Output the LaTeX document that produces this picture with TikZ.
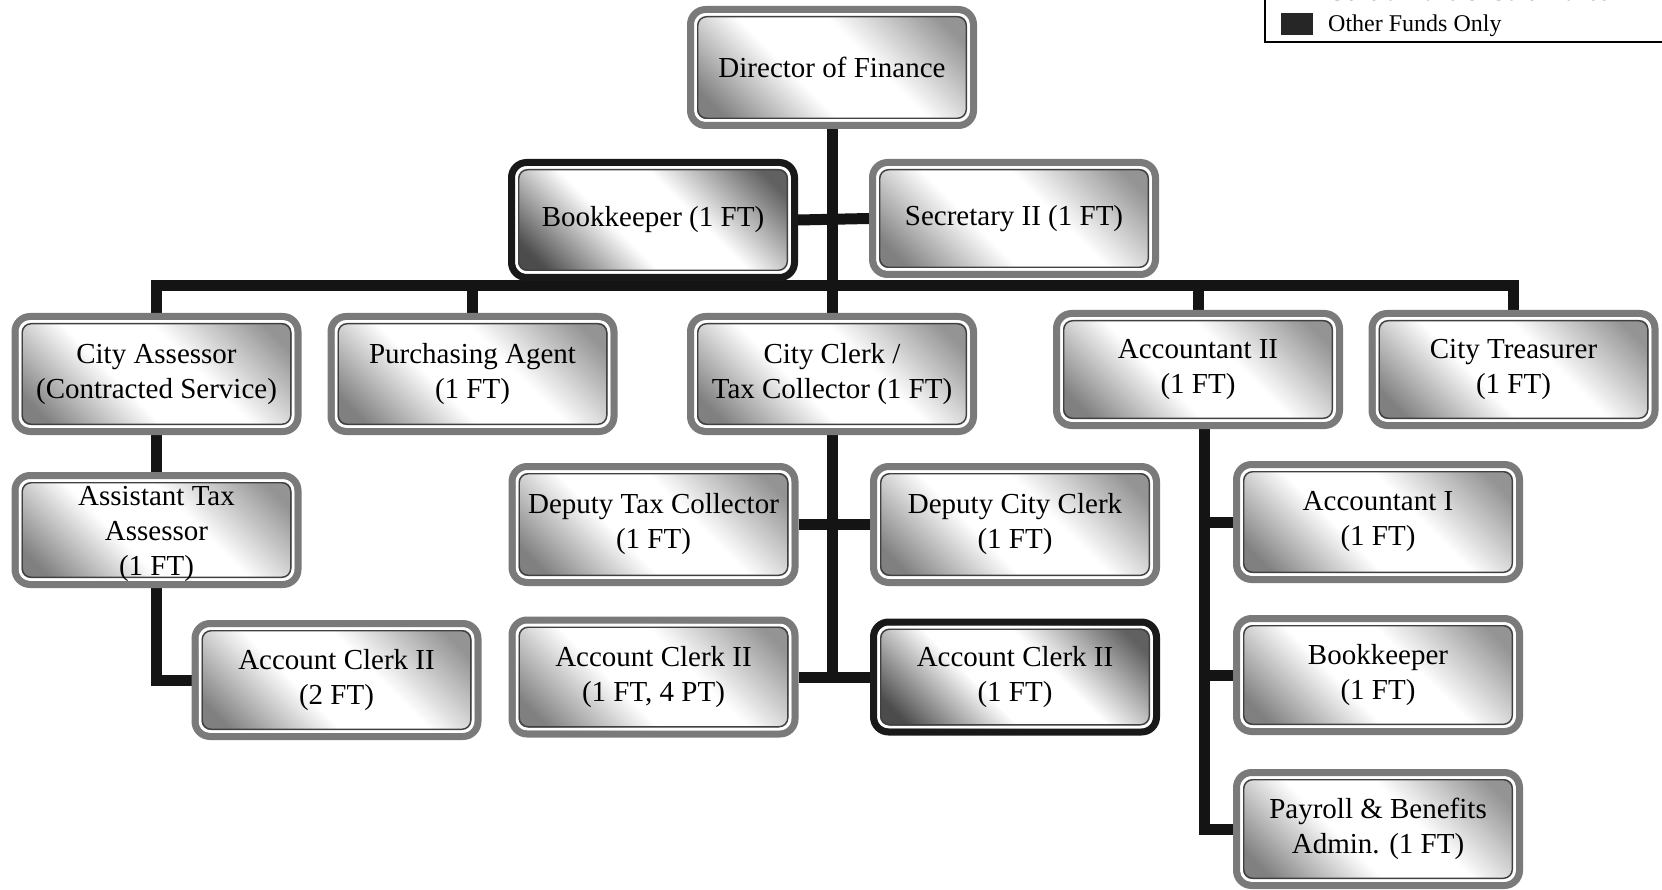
\documentclass[tikz,border=0pt]{standalone}
\usepackage{fontspec}
\setmainfont{Liberation Serif}
\usetikzlibrary{calc}
\pgfdeclarelayer{bg}
\pgfsetlayers{bg,main}
\definecolor{boxgray}{gray}{0.48}
\definecolor{darkborder}{gray}{0.1}
\definecolor{shadeA}{gray}{0.5}
\definecolor{shadeB}{gray}{0.58}
\definecolor{dshadeA}{gray}{0.3}
\definecolor{dshadeB}{gray}{0.38}
\definecolor{connc}{gray}{0.08}
\pgfdeclarehorizontalshading{orgshade}{100bp}{color(0bp)=(shadeA); color(22bp)=(shadeA); color(42bp)=(white); color(58bp)=(white); color(78bp)=(shadeB); color(100bp)=(shadeB)}
\pgfdeclarehorizontalshading{orgdshade}{100bp}{color(0bp)=(dshadeA); color(22bp)=(dshadeA); color(42bp)=(white); color(58bp)=(white); color(78bp)=(dshadeB); color(100bp)=(dshadeB)}
\newcommand\orgfont{\fontsize{29}{35}\selectfont}
\tikzset{
  gapline/.style={draw=white, line width=3pt, rounded corners=10pt},
  innerline/.style={draw=black!75, line width=1.4pt, rounded corners=9pt},
  orgbox/.style={rounded corners=15pt, draw=boxgray, line width=7pt,
    minimum width=283pt, minimum height=113pt, inner sep=0pt, align=center,
    font=\orgfont, text=black, shading=orgshade, shading angle=45,
    path picture={
      \draw[gapline] ([shift={(5pt,-5pt)}]path picture bounding box.north west) rectangle ([shift={(-5pt,5pt)}]path picture bounding box.south east);
      \draw[innerline] ([shift={(7.2pt,-7.2pt)}]path picture bounding box.north west) rectangle ([shift={(-7.2pt,7.2pt)}]path picture bounding box.south east);
    }},
  darkbox/.style={orgbox, draw=darkborder, shading=orgdshade, shading angle=45},
  conn/.style={line width=11pt, draw=connc, line join=miter},
}
\begin{document}
\begin{tikzpicture}[x=1pt,y=-1pt]
\useasboundingbox (0,0) rectangle (1662,890);
% boxes
\node[orgbox, minimum height=116pt] (dir) at (832,67.5) {Director of Finance};
\node[darkbox, minimum height=115pt] (bk) at (653,220) {Bookkeeper (1 FT)};
\node[orgbox, minimum height=112pt] (sec) at (1014,218.5) {Secretary II (1 FT)};
\node[orgbox, minimum height=115pt] (ca) at (156.5,374) {City Assessor\\(Contracted Service)};
\node[orgbox, minimum height=115pt] (pa) at (472.5,374) {Purchasing Agent\\(1 FT)};
\node[orgbox, minimum height=115pt] (cc) at (832,374) {City Clerk /\\Tax Collector (1 FT)};
\node[orgbox, minimum height=112pt] (a2) at (1198,369.5) {Accountant II\\(1 FT)};
\node[orgbox, minimum height=112pt] (tr) at (1513.5,369.5) {City Treasurer\\(1 FT)};
\node[orgbox, minimum height=109pt] (ata) at (156.5,530) {\raisebox{-3pt}[\height][\depth]{\begin{tabular}{@{}c@{}}Assistant Tax\\Assessor\\(1 FT)\end{tabular}}};
\node[orgbox] (ac2) at (336.5,680) {Account Clerk II\\(2 FT)};
\node[orgbox, minimum height=116pt] (dtc) at (653.5,524.5) {Deputy Tax Collector\\(1 FT)};
\node[orgbox, minimum height=116pt] (dcc) at (1015,524.5) {Deputy City Clerk\\(1 FT)};
\node[orgbox, minimum height=114pt] (ac14) at (653.5,677) {Account Clerk II\\(1 FT, 4 PT)};
\node[darkbox, minimum height=110pt] (ac1) at (1015,677) {Account Clerk II\\(1 FT)};
\node[orgbox, minimum height=115pt] (ai) at (1378,522) {Accountant I\\(1 FT)};
\node[orgbox] (bk2) at (1378,675) {Bookkeeper\\(1 FT)};
\node[orgbox] (pb) at (1378,829) {Payroll \& Benefits\\Admin. (1 FT)};
% connectors
\coordinate (bus) at (832,286);
\begin{pgfonlayer}{bg}
\draw[conn] (dir.south) -- (cc.north);
\draw[conn] (bk.east) -- (sec.west);
\draw[conn] (ca.north) |- (bus) -| (tr.north);
\draw[conn] (pa.north) -- (pa.north |- bus);
\draw[conn] (a2.north) -- (a2.north |- bus);
\draw[conn] (ca.south) -- (ata.north);
\draw[conn] (ata.south) |- (ac2.west);
\draw[conn] (cc.south) -- (cc.south |- ac1.west);
\draw[conn] (dtc.east) -- (dcc.west);
\draw[conn] (ac14.east) -- (ac1.west);
\coordinate (a2t) at ([xshift=6pt]a2.south);
\draw[conn] (a2t) |- (pb.west);
\draw[conn] (ai.west) -- (ai.west -| a2t);
\draw[conn] (bk2.west) -- (bk2.west -| a2t);
\end{pgfonlayer}
% legend
\coordinate (lgtop) at (1265,-5);
\coordinate (lgcorner) at (1265,42);
\coordinate (lgright) at (1670,42);
\draw[line width=1.5pt] (lgtop) -- (lgcorner) -- (lgright);
\node[fill=black!85, minimum width=32pt, minimum height=22pt, inner sep=0pt] (lsq) at (1297,24) {};
\node[anchor=base west, inner sep=0pt, font=\fontsize{24}{28}\selectfont] (lt2) at (1328,32) {Other Funds Only};
\node[anchor=base west, inner sep=0pt, font=\fontsize{24}{28}\selectfont] (lt1) at (1328,1) {General Fund \& Other Funds};
\end{tikzpicture}
\end{document}
